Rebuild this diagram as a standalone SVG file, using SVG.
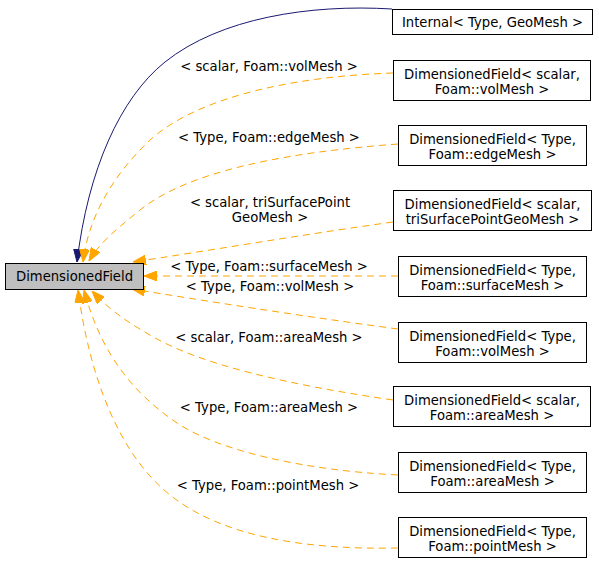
<svg xmlns="http://www.w3.org/2000/svg" width="599" height="564" viewBox="0 0 599 564">
<style>
  .node rect { fill: #ffffff; stroke: #000000; stroke-width: 1; }
  .node.main rect { fill: #bfbfbf; }
  text { font-family: "DejaVu Sans", "Liberation Sans", sans-serif; font-size: 13.2px; fill: #000000; text-anchor: middle; }
  .edge { fill: none; stroke-width: 1; }
  .navy { stroke: #191970; marker-end: url(#arrowNavy); }
  .tmpl { stroke: #ffa500; stroke-dasharray: 7,5; marker-end: url(#arrowOrange); }
</style>
<defs>
  <marker id="arrowNavy" markerUnits="userSpaceOnUse" viewBox="0 0 13 10" refX="13" refY="5" markerWidth="13" markerHeight="10" orient="auto">
    <path d="M0,0 L13,5 L0,10 z" fill="#191970" stroke="#191970" stroke-width="1"/>
  </marker>
  <marker id="arrowOrange" markerUnits="userSpaceOnUse" viewBox="0 0 13 10" refX="13" refY="5" markerWidth="13" markerHeight="10" orient="auto">
    <path d="M0,0 L13,5 L0,10 z" fill="#ffa500" stroke="#ffa500" stroke-width="1"/>
  </marker>
</defs>
<rect x="0" y="0" width="599" height="564" fill="#ffffff"/>

<g id="connectors">
  <path class="edge navy" d="M392,9 C310,4 220,18 165,62 C120,98 88,170 77,262"/>
  <path class="edge tmpl" d="M393,73 C300,76 200,95 150,140 C110,178 88,220 83,262"/>
  <path class="edge tmpl" d="M398,144 C290,152 190,170 140,210 C118,228 100,242 89,261"/>
  <path class="edge tmpl" d="M393,222 C300,235 200,252 133,262"/>
  <path class="edge tmpl" d="M398,276 L144,276"/>
  <path class="edge tmpl" d="M398,329 C300,316 200,300 132,289"/>
  <path class="edge tmpl" d="M393,400 C290,385 200,365 150,335 C120,318 105,305 92,291"/>
  <path class="edge tmpl" d="M398,475 C300,470 220,450 180,425 C130,392 100,350 84,290"/>
  <path class="edge tmpl" d="M398,548 C300,550 220,535 170,495 C120,455 90,380 78,290"/>
  <g id="edge-labels">
    <text x="269" y="71">&lt; scalar, Foam::volMesh &gt;</text>
    <text x="269" y="142">&lt; Type, Foam::edgeMesh &gt;</text>
    <text x="270" y="207">&lt; scalar, triSurfacePoint</text>
    <text x="270" y="222">GeoMesh &gt;</text>
    <text x="269" y="271">&lt; Type, Foam::surfaceMesh &gt;</text>
    <text x="270" y="291">&lt; Type, Foam::volMesh &gt;</text>
    <text x="269" y="342">&lt; scalar, Foam::areaMesh &gt;</text>
    <text x="269" y="412">&lt; Type, Foam::areaMesh &gt;</text>
    <text x="268" y="490">&lt; Type, Foam::pointMesh &gt;</text>
  </g>
</g>

<g id="node-DimensionedField" class="node main">
  <rect x="5.5" y="263.5" width="138" height="26"/>
  <text x="74.5" y="280.5">DimensionedField</text>
</g>
<g id="node-Internal" class="node">
  <rect x="392.5" y="9.5" width="200" height="25"/>
  <text x="492.5" y="26.5">Internal&lt; Type, GeoMesh &gt;</text>
</g>
<g id="node-scalar-volMesh" class="node">
  <rect x="393.5" y="60.5" width="197" height="40"/>
  <text x="492" y="78.5">DimensionedField&lt; scalar,</text>
  <text x="492" y="93.5">Foam::volMesh &gt;</text>
</g>
<g id="node-Type-edgeMesh" class="node">
  <rect x="398.5" y="125.5" width="188" height="40"/>
  <text x="492.5" y="143.5">DimensionedField&lt; Type,</text>
  <text x="492.5" y="158.5">Foam::edgeMesh &gt;</text>
</g>
<g id="node-scalar-triSurfacePointGeoMesh" class="node">
  <rect x="393.5" y="190.5" width="198" height="40"/>
  <text x="492.5" y="208.5">DimensionedField&lt; scalar,</text>
  <text x="492.5" y="223.5">triSurfacePointGeoMesh &gt;</text>
</g>
<g id="node-Type-surfaceMesh" class="node">
  <rect x="398.5" y="256.5" width="188" height="40"/>
  <text x="492.5" y="274.5">DimensionedField&lt; Type,</text>
  <text x="492.5" y="289.5">Foam::surfaceMesh &gt;</text>
</g>
<g id="node-Type-volMesh" class="node">
  <rect x="398.5" y="322.5" width="188" height="40"/>
  <text x="492.5" y="340.5">DimensionedField&lt; Type,</text>
  <text x="492.5" y="355.5">Foam::volMesh &gt;</text>
</g>
<g id="node-scalar-areaMesh" class="node">
  <rect x="393.5" y="386.5" width="197" height="40"/>
  <text x="492" y="404.5">DimensionedField&lt; scalar,</text>
  <text x="492" y="419.5">Foam::areaMesh &gt;</text>
</g>
<g id="node-Type-areaMesh" class="node">
  <rect x="398.5" y="452.5" width="188" height="40"/>
  <text x="492.5" y="470.5">DimensionedField&lt; Type,</text>
  <text x="492.5" y="485.5">Foam::areaMesh &gt;</text>
</g>
<g id="node-Type-pointMesh" class="node">
  <rect x="398.5" y="517.5" width="188" height="40"/>
  <text x="492.5" y="535.5">DimensionedField&lt; Type,</text>
  <text x="492.5" y="550.5">Foam::pointMesh &gt;</text>
</g>
</svg>
